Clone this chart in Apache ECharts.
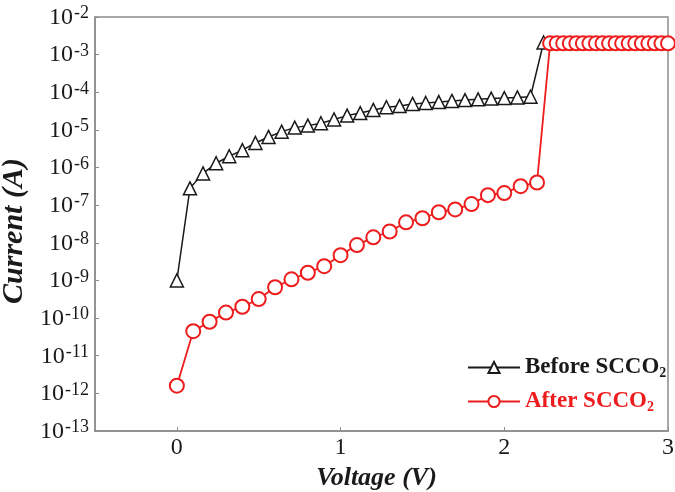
<!DOCTYPE html>
<html>
<head>
<meta charset="utf-8">
<script src="https://cdn.jsdelivr.net/npm/echarts@6/dist/echarts.min.js"></script>
<style>
html,body{margin:0;padding:0;background:#fff;}
#chartmain{width:675px;height:492px;}
</style>
</head>
<body>
<div id="chartmain"></div>
<script>
// Before SCCO2 (triangles)
var beforeV = [0, 0.08, 0.16, 0.24, 0.32, 0.40, 0.48, 0.56, 0.64, 0.72, 0.80, 0.88, 0.96,
    1.04, 1.12, 1.20, 1.28, 1.36, 1.44, 1.52, 1.60, 1.68, 1.76, 1.84, 1.92, 2.00, 2.08, 2.16, 2.24];
var beforeI = [1e-9, 2.8e-7, 7e-7, 1.3e-6, 2e-6, 2.9e-6, 4.5e-6, 6.5e-6, 9e-6, 1.15e-5, 1.3e-5, 1.5e-5, 1.9e-5,
    2.4e-5, 2.8e-5, 3.4e-5, 4e-5, 4.3e-5, 4.9e-5, 5.2e-5, 5.5e-5, 5.9e-5, 6.2e-5, 6.5e-5, 6.8e-5, 7e-5, 7.3e-5, 7.6e-5, 2.1e-3];

// After SCCO2 (circles)
var afterV = [0, 0.1, 0.2, 0.3, 0.4, 0.5, 0.6, 0.7, 0.8, 0.9, 1.0, 1.1, 1.2, 1.3, 1.4, 1.5, 1.6, 1.7, 1.8, 1.9, 2.0, 2.1, 2.2,
    2.28, 2.32, 2.36, 2.40, 2.44, 2.48, 2.52, 2.56, 2.60, 2.64, 2.68, 2.72, 2.76, 2.80, 2.84, 2.88, 2.92, 2.96, 3.00];
var afterI = [1.6e-12, 4.5e-11, 8e-11, 1.4e-10, 2e-10, 3.2e-10, 6.6e-10, 1.07e-9, 1.6e-9, 2.4e-9, 4.7e-9, 8.7e-9, 1.4e-8, 2e-8, 3.5e-8, 4.5e-8, 6.5e-8, 7.7e-8, 1.07e-7, 1.85e-7, 2.1e-7, 3.2e-7, 4e-7,
    2e-3, 2e-3, 2e-3, 2e-3, 2e-3, 2e-3, 2e-3, 2e-3, 2e-3, 2e-3, 2e-3, 2e-3, 2e-3, 2e-3, 2e-3, 2e-3, 2e-3, 2e-3, 2e-3];

var xTicks = [0, 1, 2, 3];

function pairs(xs, ys){
    var out = [];
    for(var i = 0; i < xs.length; i++){
        out.push([xs[i], ys[i]]);
    }
    return out;
}

var serif = 'Liberation Serif';
var axisGray = '#8c8c8c';

var option = {
    animation: false,
    grid: {
        left: 95, right: 7, top: 17, bottom: 61,
        outerBoundsMode: 'none',
        show: true,
        borderColor: axisGray,
        borderWidth: 1.5
    },
    legend: {
        orient: 'vertical',
        left: 462,
        top: 349,
        itemWidth: 52,
        itemHeight: 14,
        itemGap: 8,
        data: [
            {name: 'Before', textStyle: {color: '#1a1a1a'}},
            {name: 'After', textStyle: {color: '#ee1c1c'}}
        ],
        formatter: function(name){
            return '{m|' + name + ' SCCO}{s|2}';
        },
        textStyle: {
            fontFamily: serif,
            fontWeight: 'bold',
            fontSize: 23,
            rich: {
                m: {fontFamily: serif, fontWeight: 'bold', fontSize: 23, lineHeight: 25},
                s: {fontFamily: serif, fontWeight: 'bold', fontSize: 14, verticalAlign: 'bottom', lineHeight: 14, padding: [12, 0, 0, 0]}
            }
        }
    },
    xAxis: {
        type: 'value',
        min: -0.5,
        max: 3,
        name: 'Voltage (V)',
        nameLocation: 'middle',
        nameGap: 32,
        nameTextStyle: {
            fontFamily: serif, fontWeight: 'bold', fontStyle: 'italic', fontSize: 26, color: '#1a1a1a',
            padding: [0, 10, 0, 0]
        },
        axisLine: {onZero: false, lineStyle: {color: axisGray, width: 1.5}},
        axisTick: {inside: true, length: 4, customValues: xTicks, lineStyle: {color: axisGray}},
        axisLabel: {
            customValues: xTicks,
            fontFamily: serif, fontSize: 24, color: '#1a1a1a', margin: 5
        },
        splitLine: {show: false}
    },
    yAxis: {
        type: 'log',
        logBase: 10,
        min: 1e-13,
        max: 1e-2,
        interval: 1,
        name: 'Current (A)',
        nameLocation: 'middle',
        nameGap: 56,
        nameRotate: 90,
        nameTextStyle: {
            fontFamily: serif, fontWeight: 'bold', fontStyle: 'italic', fontSize: 30, color: '#1a1a1a',
            padding: [0, 14, 0, 0]
        },
        axisLine: {show: true, onZero: false, lineStyle: {color: axisGray, width: 1.5}},
        axisTick: {show: true, inside: true, length: 4, lineStyle: {color: axisGray}},
        axisLabel: {
            margin: 6,
            formatter: function(v){
                var e = Math.round(Math.log(v) / Math.LN10);
                return '{b|10}{s|' + e + '}';
            },
            rich: {
                b: {fontFamily: serif, fontSize: 24, color: '#1a1a1a', lineHeight: 25, verticalAlign: 'bottom'},
                s: {fontFamily: serif, fontSize: 18, color: '#1a1a1a', lineHeight: 18, verticalAlign: 'top', padding: [0, 0, 9, 1]}
            }
        },
        splitLine: {show: false},
        minorTick: {show: false}
    },
    series: [
        {
            name: 'Before',
            type: 'line',
            data: pairs(beforeV, beforeI),
            symbol: 'triangle',
            symbolSize: 13,
            lineStyle: {color: '#1a1a1a', width: 1.5},
            itemStyle: {color: '#ffffff', borderColor: '#1a1a1a', borderWidth: 1.5},
            z: 2
        },
        {
            name: 'After',
            type: 'line',
            data: pairs(afterV, afterI),
            symbol: 'circle',
            symbolSize: 14,
            lineStyle: {color: '#ee1c1c', width: 1.8},
            itemStyle: {color: '#ffffff', borderColor: '#ee1c1c', borderWidth: 2},
            z: 3
        }
    ]
};

var myChart = echarts.init(document.getElementById('chartmain'));
myChart.setOption(option);
</script>
</body>
</html>
